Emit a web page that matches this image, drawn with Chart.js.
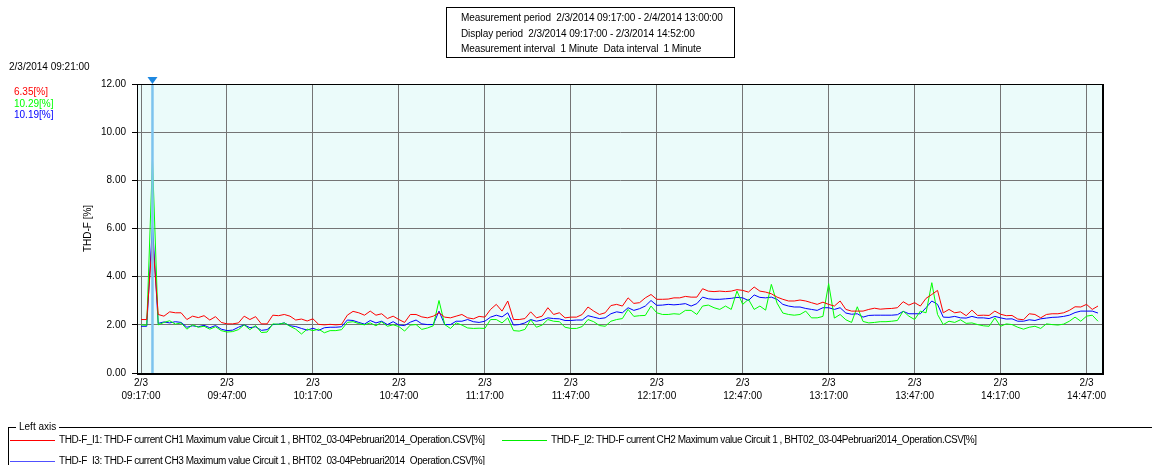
<!DOCTYPE html>
<html>
<head>
<meta charset="utf-8">
<script src="https://cdn.jsdelivr.net/npm/chart.js@4.4.1/dist/chart.umd.min.js"></script>
<style>
body { margin: 0; background: #fff; font-family: "Liberation Sans", Arial, sans-serif; font-size: 10px; color: #000; }
#wrap { position: relative; width: 1152px; height: 465px; overflow: hidden; }
#chart { position: absolute; left: 0; top: 0; }
.abs { position: absolute; white-space: nowrap; line-height: 12px; }
#info { left: 446px; top: 7px; width: 287px; height: 49px; border: 1px solid #000; }
#info div { position: absolute; left: 14px; letter-spacing: -0.1px; }
.swatch { position: absolute; height: 1px; width: 45px; }
.lgtext { letter-spacing: -0.43px; }
</style>
</head>
<body>
<div id="wrap">
  <canvas id="chart" width="1152" height="465"></canvas>
  <div class="abs" id="info">
    <div style="top:4px">Measurement period&nbsp; 2/3/2014 09:17:00 - 2/4/2014 13:00:00</div>
    <div style="top:20px">Display period&nbsp; 2/3/2014 09:17:00 - 2/3/2014 14:52:00</div>
    <div style="top:35px">Measurement interval&nbsp; 1 Minute&nbsp; Data interval&nbsp; 1 Minute</div>
  </div>
  <div class="abs" style="left:9px;top:61px">2/3/2014 09:21:00</div>
  <div class="abs" id="cursorVals" style="left:14px;top:86px;line-height:11.5px"></div>

  <div class="abs" style="left:8px;top:427px;width:1144px;border-top:1px solid #000"></div>
  <div class="abs" style="left:8px;top:427px;height:40px;border-left:1px solid #000"></div>
  <div class="abs" style="left:16px;top:421px;background:#fff;padding:0 3px">Left axis</div>
  <div id="legend"></div>
</div>

<script>
// time axis: minutes after 09:17:00, one sample every 2 minutes
var stepMin = 2;
var cursorMinute = 4; // 09:21:00
var xTickStep = 30;
var xTickTimes = ['09:17:00', '09:47:00', '10:17:00', '10:47:00', '11:17:00', '11:47:00',
    '12:17:00', '12:47:00', '13:17:00', '13:47:00', '14:17:00', '14:47:00'];
var xTickDate = '2/3';

var seriesNames = [
    'THD-F_I1: THD-F current CH1 Maximum value Circuit 1 , BHT02_03-04Pebruari2014_Operation.CSV[%]',
    'THD-F_I2: THD-F current CH2 Maximum value Circuit 1 , BHT02_03-04Pebruari2014_Operation.CSV[%]',
    'THD-F_I3: THD-F current CH3 Maximum value Circuit 1 , BHT02_03-04Pebruari2014_Operation.CSV[%]'
];
var seriesColors = ['#ff0000', '#00ff00', '#0000ff'];
var swatchColors = ['#ff0000', '#00ee00', '#5050ff'];
var cursorValues = ['6.35[%]', '10.29[%]', '10.19[%]'];

var thdI1 = [
    2.22, 2.22, 5.6, 2.43, 2.36, 2.54, 2.5, 2.5, 2.22, 2.36, 2.3, 2.38, 2.2, 2.34, 2.1,
    2.04, 2.04, 2.08, 2.36, 2.22, 2.34, 2.04, 2.04, 2.4, 2.38, 2.43, 2.36, 2.2, 2.24, 2.16,
    2.25, 2.02, 2.0, 2.02, 2.0, 2.02, 2.4, 2.56, 2.5, 2.4, 2.57, 2.4, 2.46, 2.26, 2.36,
    2.22, 2.1, 2.43, 2.43, 2.33, 2.29, 2.36, 2.5, 2.32, 2.29, 2.36, 2.43, 2.29, 2.25, 2.35,
    2.32, 2.64, 2.85, 2.57, 2.99, 2.22, 2.22, 2.26, 2.54, 2.29, 2.36, 2.71, 2.43, 2.5, 2.29,
    2.32, 2.32, 2.43, 2.74, 2.57, 2.43, 2.5, 2.8, 2.85, 2.78, 3.12, 2.89, 2.92, 3.12, 3.26,
    3.06, 3.06, 3.07, 3.12, 3.12, 3.18, 3.15, 3.15, 3.5, 3.4, 3.38, 3.4, 3.38, 3.4, 3.46,
    3.43, 3.36, 3.57, 3.4, 3.36, 3.29, 3.15, 3.06, 2.99, 2.99, 3.03, 2.99, 2.92, 2.85, 2.94,
    2.85, 2.78, 2.99, 2.64, 2.57, 2.57, 2.57, 2.64, 2.69, 2.65, 2.67, 2.68, 2.71, 2.96, 2.82,
    2.92, 2.78, 3.1, 3.26, 3.43, 2.5, 2.64, 2.5, 2.54, 2.38, 2.61, 2.39, 2.4, 2.39, 2.57,
    2.44, 2.38, 2.39, 2.24, 2.21, 2.46, 2.43, 2.29, 2.43, 2.46, 2.46, 2.5, 2.6, 2.75, 2.74,
    2.85, 2.64, 2.78
];
var thdI2 = [
    2.0, 1.98, 8.86, 2.0, 2.1, 2.17, 2.03, 2.08, 1.82, 2.0, 1.9, 1.94, 1.82, 1.92, 1.76,
    1.7, 1.72, 1.8, 2.0, 1.8, 1.97, 1.68, 1.7, 2.04, 2.02, 2.08, 1.94, 1.82, 1.62, 1.82,
    1.76, 1.82, 1.67, 1.76, 1.76, 1.8, 2.1, 2.13, 2.05, 2.0, 2.08, 1.96, 2.12, 1.94, 2.0,
    1.93, 1.74, 1.99, 2.01, 1.81, 1.87, 1.96, 3.01, 2.01, 1.85, 2.08, 1.99, 1.87, 1.85, 1.86,
    1.85, 2.22, 2.22, 2.08, 2.29, 1.76, 1.74, 1.81, 2.21, 1.9, 1.99, 2.22, 2.15, 2.13, 1.9,
    1.85, 1.85, 1.93, 2.22, 2.13, 1.97, 1.94, 2.15, 2.22, 2.26, 2.64, 2.35, 2.38, 2.39, 2.78,
    2.5, 2.43, 2.43, 2.46, 2.44, 2.6, 2.6, 2.43, 2.78, 2.82, 2.71, 2.64, 2.78, 2.64, 3.4,
    2.85, 3.06, 2.64, 2.78, 2.61, 3.68, 2.9, 2.49, 2.43, 2.4, 2.43, 2.57, 2.29, 2.29, 2.35,
    3.71, 2.28, 2.43, 2.21, 2.1, 2.75, 2.14, 2.08, 2.1, 2.13, 2.13, 2.15, 2.18, 2.57, 2.36,
    2.22, 2.57, 2.5, 3.75, 2.43, 2.01, 2.15, 2.1, 2.21, 2.06, 2.08, 2.01, 1.96, 1.94, 2.29,
    1.94, 2.04, 2.01, 1.9, 1.82, 1.9, 1.94, 1.85, 2.04, 2.01, 1.99, 2.03, 2.15, 2.32, 2.15,
    2.36, 2.4, 2.15
];
var thdI3 = [
    1.94, 1.94, 6.15, 2.06, 2.12, 2.08, 2.13, 2.1, 1.9, 1.96, 1.92, 1.98, 1.88, 1.97, 1.82,
    1.76, 1.78, 1.9, 2.0, 1.88, 1.92, 1.77, 1.8, 2.01, 2.03, 2.08, 1.96, 1.93, 1.85, 1.78,
    1.86, 1.77, 1.88, 1.9, 1.9, 1.92, 2.2, 2.18, 2.1, 2.03, 2.18, 2.08, 2.15, 2.01, 2.13,
    1.99, 1.97, 2.11, 2.2, 2.04, 2.01, 2.01, 2.57, 2.01, 2.01, 2.15, 2.15, 2.22, 2.13, 2.1,
    2.15, 2.32, 2.4, 2.33, 2.5, 1.99, 2.01, 2.08, 2.22, 2.15, 2.2, 2.29, 2.26, 2.25, 2.18,
    2.18, 2.2, 2.2, 2.38, 2.32, 2.26, 2.29, 2.46, 2.54, 2.5, 2.71, 2.6, 2.67, 2.78, 3.01,
    2.81, 2.82, 2.85, 2.83, 2.85, 2.88, 2.78, 2.88, 3.15, 3.08, 3.06, 3.06, 3.08, 3.1, 3.14,
    3.12, 3.01, 3.24, 3.14, 3.12, 3.15, 3.06, 2.85, 2.78, 2.74, 2.74, 2.68, 2.64, 2.6, 2.71,
    2.71, 2.64, 2.71, 2.49, 2.44, 2.46, 2.32, 2.39, 2.4, 2.4, 2.4, 2.4, 2.42, 2.56, 2.46,
    2.46, 2.46, 2.71, 2.99, 2.85, 2.32, 2.31, 2.35, 2.29, 2.28, 2.35, 2.29, 2.29, 2.26, 2.35,
    2.29, 2.24, 2.25, 2.15, 2.15, 2.21, 2.18, 2.25, 2.28, 2.31, 2.32, 2.35, 2.4, 2.51, 2.57,
    2.57, 2.57, 2.49
];

function toPoints(values) {
    var pts = [];
    for (var i = 0; i < values.length; i++) {
        pts.push({x: i * stepMin, y: values[i]});
    }
    return pts;
}

// side texts (cursor values + legend)
var cv = document.getElementById('cursorVals');
for (var i = 0; i < cursorValues.length; i++) {
    cv.innerHTML += '<div style="color:' + seriesColors[i] + '">' + cursorValues[i] + '</div>';
}
var legendPos = [[10, 440], [502, 440], [10, 461]];
var lg = document.getElementById('legend');
for (var i = 0; i < seriesNames.length; i++) {
    var lx = legendPos[i][0], ly = legendPos[i][1];
    lg.innerHTML += '<div class="swatch" style="left:' + lx + 'px;top:' + ly + 'px;background:' + swatchColors[i] + '"></div>' +
        '<div class="abs lgtext" style="left:' + (lx + 49) + 'px;top:' + (ly - 6) + 'px">' + seriesNames[i] + '</div>';
}

var plotDecor = {
    id: 'plotDecor',
    beforeDraw: function (chart) {
        var a = chart.chartArea, c = chart.ctx;
        c.save();
        c.fillStyle = '#ebfbfa';
        c.fillRect(a.left, a.top, a.right - a.left, a.bottom - a.top);
        c.restore();
    },
    afterDatasetsDraw: function (chart) {
        var a = chart.chartArea, c = chart.ctx;
        var x = chart.scales.x.getPixelForValue(cursorMinute);
        c.save();
        c.strokeStyle = '#7dc3ee';
        c.lineWidth = 2.5;
        c.beginPath();
        c.moveTo(x, a.top);
        c.lineTo(x, a.bottom);
        c.stroke();
        c.fillStyle = '#1e88e0';
        c.beginPath();
        c.moveTo(x - 5, a.top - 7);
        c.lineTo(x + 5, a.top - 7);
        c.lineTo(x, a.top);
        c.closePath();
        c.fill();
        c.strokeStyle = '#000';
        c.lineWidth = 1;
        c.strokeRect(a.left + 0.5, a.top + 0.5, a.right - a.left - 1, a.bottom - a.top);
        c.lineWidth = 2;
        c.beginPath();
        c.moveTo(a.left, a.bottom + 1);
        c.lineTo(a.right, a.bottom + 1);
        c.moveTo(a.right - 1, a.top);
        c.lineTo(a.right - 1, a.bottom);
        c.stroke();
        c.restore();
    }
};

Chart.defaults.font.family = '"Liberation Sans", Arial, sans-serif';
Chart.defaults.font.size = 10;
Chart.defaults.color = '#000';

var datasets = [];
var allSeries = [thdI1, thdI2, thdI3];
for (var i = 0; i < allSeries.length; i++) {
    datasets.push({
        label: seriesNames[i],
        data: toPoints(allSeries[i]),
        borderColor: seriesColors[i],
        backgroundColor: seriesColors[i],
        borderWidth: 1,
        pointRadius: 0,
        fill: false,
        tension: 0
    });
}

var ctx = document.getElementById('chart').getContext('2d');
var myChart = new Chart(ctx, {
    type: 'line',
    data: {datasets: datasets},
    options: {
        responsive: false,
        animation: false,
        layout: {padding: {left: 0, right: 48, top: 84, bottom: 0}},
        plugins: {legend: {display: false}, tooltip: {enabled: false}},
        scales: {
            x: {
                type: 'linear',
                min: -1.4,
                max: 336.1,
                bounds: 'data',
                afterFit: function (s) { s.height = 92; },
                afterBuildTicks: function (s) {
                    // one tick per half-hour label
                    s.ticks = xTickTimes.map(function (t, i) {
                        return {value: i * xTickStep};
                    });
                },
                grid: {color: '#747474', lineWidth: 1, drawTicks: false},
                border: {display: false},
                ticks: {
                    autoSkip: false,
                    maxRotation: 0,
                    padding: 4,
                    font: {size: 10, lineHeight: 1.3},
                    callback: function (value, index) {
                        return [xTickDate, xTickTimes[index]];
                    }
                }
            },
            y: {
                min: 0,
                max: 12,
                afterFit: function (s) { s.width = 137; },
                grid: {color: '#747474', lineWidth: 1, tickLength: 5, tickColor: '#000'},
                border: {display: false},
                ticks: {
                    stepSize: 2,
                    padding: 6,
                    callback: function (v) { return v.toFixed(2); }
                },
                title: {
                    display: true,
                    text: 'THD-F [%]',
                    font: {size: 10},
                    padding: {top: 82, bottom: 0}
                }
            }
        }
    },
    plugins: [plotDecor]
});
</script>
</body>
</html>
